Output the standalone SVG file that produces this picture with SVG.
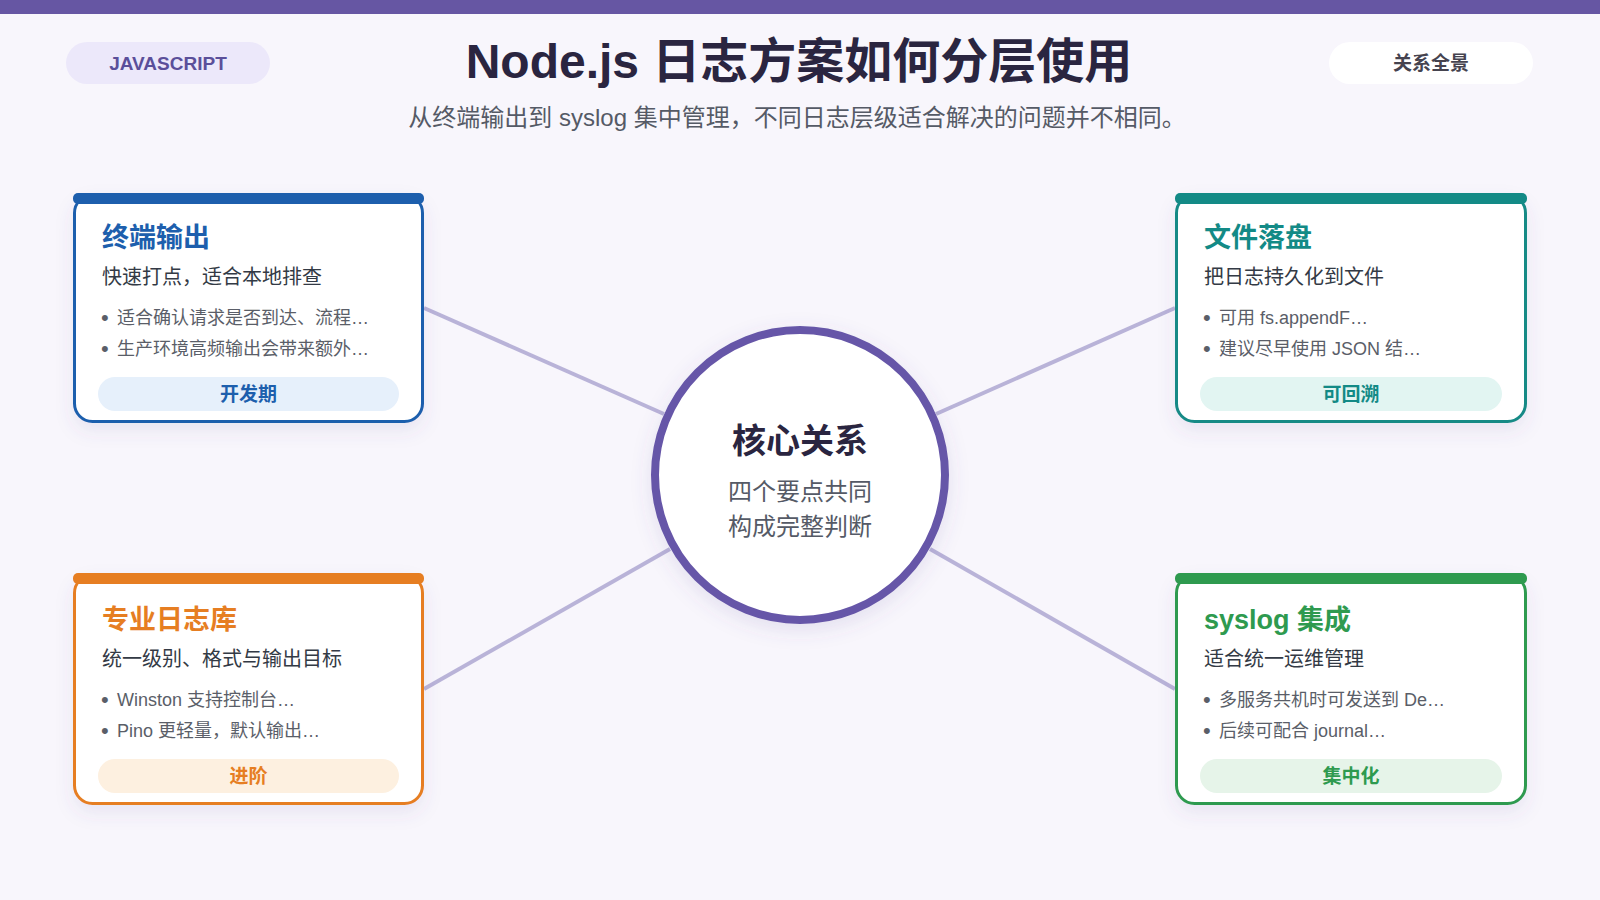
<svg xmlns="http://www.w3.org/2000/svg" width="1600" height="900" viewBox="0 0 1600 900">
<defs>
<style>
text{font-family:"Liberation Sans","Noto Sans CJK SC",sans-serif}
.ttl{font-size:27px;font-weight:700}
.sub{font-size:20px;fill:#333a45}
.bul{font-size:18px;fill:#5a5e68}
.dot{font-size:22px;fill:#5a5e68}
.pilltx{font-size:19px;font-weight:700;text-anchor:middle}
.conn{stroke:#b9b3d8;stroke-width:4;fill:none}
.card{fill:#ffffff;stroke-width:3}
</style>
<filter id="sh" x="-20%" y="-20%" width="140%" height="150%">
<feDropShadow dx="0" dy="8" stdDeviation="9" flood-color="#5a4d9a" flood-opacity="0.10"/>
</filter>
<filter id="sh2" x="-20%" y="-20%" width="140%" height="150%">
<feDropShadow dx="0" dy="6" stdDeviation="10" flood-color="#5a4d9a" flood-opacity="0.14"/>
</filter>
</defs>
<rect x="0" y="0" width="1600" height="900" fill="#f8f6fc"/>
<rect x="0" y="0" width="1600" height="14" fill="#6656a3"/>

<g id="header">
<rect x="66" y="42" width="204" height="42" rx="21" fill="#ece8fa"/>
<text x="168" y="70" text-anchor="middle" font-size="19" font-weight="600" fill="#5b4f9a">JAVASCRIPT</text>
<text x="799" y="78" text-anchor="middle" font-size="48" font-weight="700" fill="#2a2540">Node.js 日志方案如何分层使用</text>
<text x="797" y="126" text-anchor="middle" font-size="24" fill="#555a66">从终端输出到 syslog 集中管理，不同日志层级适合解决的问题并不相同。</text>
<rect x="1329" y="42" width="204" height="42" rx="21" fill="#ffffff"/>
<text x="1431" y="70" text-anchor="middle" font-size="19" font-weight="700" fill="#45434f">关系全景</text>
</g>

<g id="connectors">
<line class="conn" x1="424" y1="308" x2="664" y2="414"/>
<line class="conn" x1="1175" y1="308" x2="936" y2="414"/>
<line class="conn" x1="424" y1="689" x2="670" y2="549"/>
<line class="conn" x1="1175" y1="689" x2="930" y2="549"/>
</g>

<g id="center">
<circle cx="800" cy="475" r="145" fill="#ffffff" stroke="#6656a8" stroke-width="8" filter="url(#sh2)"/>
<text x="800" y="453" text-anchor="middle" font-size="34" font-weight="700" fill="#2a2540">核心关系</text>
<text x="800" y="500" text-anchor="middle" font-size="24" fill="#555a66">四个要点共同</text>
<text x="800" y="535" text-anchor="middle" font-size="24" fill="#555a66">构成完整判断</text>
</g>

<g id="card-terminal">
<rect class="card" x="74.5" y="195" width="348" height="226.5" rx="18" stroke="#1d5fad" filter="url(#sh)"/>
<rect x="73" y="193" width="351" height="11" rx="5" fill="#1d5fad"/>
<text class="ttl" x="102" y="247" fill="#1d5fad">终端输出</text>
<text class="sub" x="102" y="284">快速打点，适合本地排查</text>
<text class="dot" x="101" y="325">•</text><text class="bul" x="117" y="324">适合确认请求是否到达、流程…</text>
<text class="dot" x="101" y="356">•</text><text class="bul" x="117" y="355">生产环境高频输出会带来额外…</text>
<rect x="98" y="377" width="301" height="34" rx="17" fill="#e6f0fb"/>
<text class="pilltx" x="248.5" y="401" fill="#1d5fad">开发期</text>
</g>

<g id="card-file">
<rect class="card" x="1176.5" y="195" width="349" height="226.5" rx="18" stroke="#138a86" filter="url(#sh)"/>
<rect x="1175" y="193" width="352" height="11" rx="5" fill="#138a86"/>
<text class="ttl" x="1204" y="247" fill="#138a86">文件落盘</text>
<text class="sub" x="1204" y="284">把日志持久化到文件</text>
<text class="dot" x="1203" y="325">•</text><text class="bul" x="1219" y="324">可用 fs.appendF…</text>
<text class="dot" x="1203" y="356">•</text><text class="bul" x="1219" y="355">建议尽早使用 JSON 结…</text>
<rect x="1200" y="377" width="302" height="34" rx="17" fill="#e2f5f2"/>
<text class="pilltx" x="1351" y="401" fill="#138a86">可回溯</text>
</g>

<g id="card-library">
<rect class="card" x="74.5" y="575" width="348" height="228.5" rx="18" stroke="#e67e22" filter="url(#sh)"/>
<rect x="73" y="573" width="351" height="11" rx="5" fill="#e67e22"/>
<text class="ttl" x="102" y="629" fill="#e67e22">专业日志库</text>
<text class="sub" x="102" y="666">统一级别、格式与输出目标</text>
<text class="dot" x="101" y="707">•</text><text class="bul" x="117" y="706">Winston 支持控制台…</text>
<text class="dot" x="101" y="738">•</text><text class="bul" x="117" y="737">Pino 更轻量，默认输出…</text>
<rect x="98" y="759" width="301" height="34" rx="17" fill="#fdf0e0"/>
<text class="pilltx" x="248.5" y="783" fill="#e67e22">进阶</text>
</g>

<g id="card-syslog">
<rect class="card" x="1176.5" y="575" width="349" height="228.5" rx="18" stroke="#2e9a4f" filter="url(#sh)"/>
<rect x="1175" y="573" width="352" height="11" rx="5" fill="#2e9a4f"/>
<text class="ttl" x="1204" y="629" fill="#2e9a4f">syslog 集成</text>
<text class="sub" x="1204" y="666">适合统一运维管理</text>
<text class="dot" x="1203" y="707">•</text><text class="bul" x="1219" y="706">多服务共机时可发送到 De…</text>
<text class="dot" x="1203" y="738">•</text><text class="bul" x="1219" y="737">后续可配合 journal…</text>
<rect x="1200" y="759" width="302" height="34" rx="17" fill="#e6f4e9"/>
<text class="pilltx" x="1351" y="783" fill="#2e9a4f">集中化</text>
</g>
</svg>
